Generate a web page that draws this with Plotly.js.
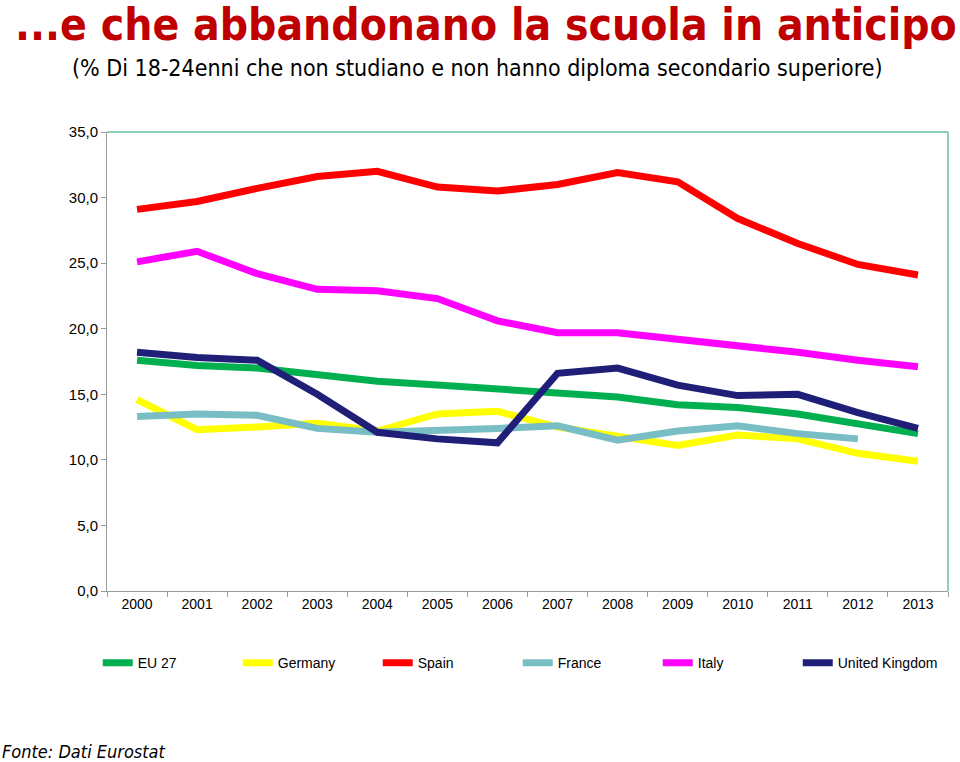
<!DOCTYPE html>
<html>
<head>
<meta charset="utf-8">
<script src="https://cdn.plot.ly/plotly-3.0.1.min.js"></script>
<style>
html,body{margin:0;padding:0;background:#fff;}
#chart{width:960px;height:762px;}
</style>
</head>
<body>
<div id="chart"></div>
<script>
const years = ["2000","2001","2002","2003","2004","2005","2006","2007","2008","2009","2010","2011","2012","2013"];
const eu27    = [17.6,17.2,17.0,16.5,16.0,15.7,15.4,15.0,14.8,14.2,14.0,13.5,12.7,12.0];
const germany = [14.6,12.3,12.5,12.8,12.2,13.5,13.7,12.5,11.8,11.1,11.9,11.6,10.5,9.9];
const spain   = [29.1,29.7,30.7,31.6,32.0,30.8,30.5,31.0,31.9,31.2,28.4,26.5,24.9,24.1];
const france  = [13.3,13.5,13.4,12.4,12.1,12.2,12.4,12.6,11.5,12.2,12.6,12.0,11.6,null];
const italy   = [25.1,25.9,24.2,23.0,22.9,22.3,20.6,19.7,19.7,19.2,18.8,18.2,17.6,17.1];
const uk      = [18.2,17.8,17.6,15.0,12.1,11.6,11.3,16.6,17.0,15.7,14.9,15.0,13.6,12.4];

const seriesNames  = ["EU 27","Germany","Spain","France","Italy","United Kingdom"];
const seriesValues = [eu27, germany, spain, france, italy, uk];
const seriesColors = ["#00b050","#ffff00","#ff0000","#78bec4","#ff00ff","#1f1f78"];

const titleText = "...e che abbandonano la scuola in anticipo";
const subtitleText = "(% Di 18-24enni che non studiano e non hanno diploma secondario superiore)";
const sourceText = "Fonte: Dati Eurostat";

const traces = seriesNames.map((n, i) => ({
  type: "scatter",
  mode: "lines",
  name: n,
  x: years,
  y: seriesValues[i],
  line: {color: seriesColors[i], width: 7},
  hoverinfo: "x+y+name"
}));

const layout = {
  width: 960, height: 762,
  paper_bgcolor: "#ffffff",
  plot_bgcolor: "#ffffff",
  margin: {l: 107, r: 12, t: 132, b: 171, pad: 0, autoexpand: false},
  separators: ",.",
  font: {family: "Liberation Sans, Arial, sans-serif", size: 14, color: "#000"},
  showlegend: true,
  legend: {
    orientation: "h",
    x: -0.011, xanchor: "left",
    y: -0.157, yanchor: "middle",
    entrywidth: 95, entrywidthmode: "pixels",
    itemwidth: 30,
    font: {family: "Liberation Sans, Arial, sans-serif", size: 14, color: "#000"},
    bgcolor: "rgba(0,0,0,0)"
  },
  xaxis: {
    type: "category",
    range: [-0.5, 13.5],
    showgrid: false, zeroline: false,
    showline: true, linecolor: "#9a9a9a", linewidth: 1,
    ticks: "outside", ticklen: 5, tickcolor: "#9a9a9a",
    tickson: "boundaries",
    tickfont: {family: "Liberation Sans, Arial, sans-serif", size: 14},
    fixedrange: true
  },
  yaxis: {
    range: [0, 35],
    dtick: 5, tick0: 0,
    tickformat: ".1f",
    showgrid: false, zeroline: false,
    showline: true, linecolor: "#9a9a9a", linewidth: 1,
    ticks: "outside", ticklen: 5, tickcolor: "#9a9a9a",
    tickfont: {family: "Liberation Sans, Arial, sans-serif", size: 15},
    fixedrange: true
  },
  shapes: [
    {type: "line", xref: "paper", yref: "paper", x0: 0, x1: 1, y0: 1, y1: 1, line: {color: "#66c0a0", width: 1.5}},
    {type: "line", xref: "paper", yref: "paper", x0: 1, x1: 1, y0: 0, y1: 1, line: {color: "#66c0a0", width: 1.5}}
  ],
  annotations: [
    {text: "<b>" + titleText + "</b>", xref: "paper", yref: "paper", x: 0.451, xanchor: "center",
     y: 1.235, yanchor: "middle", showarrow: false,
     font: {family: "DejaVu Sans Condensed, sans-serif", size: 44, color: "#c00000"}},
    {text: subtitleText, xref: "paper", yref: "paper", x: 0.44, xanchor: "center",
     y: 1.139, yanchor: "middle", showarrow: false,
     font: {family: "DejaVu Sans Condensed, sans-serif", size: 23, color: "#000"}},
    {text: "<i>" + sourceText + "</i>", xref: "paper", yref: "paper", x: -107/840, xanchor: "left",
     y: 0, yanchor: "top", yshift: -148, showarrow: false,
     font: {family: "DejaVu Sans Condensed, sans-serif", size: 18, color: "#000"}}
  ]
};

Plotly.newPlot("chart", traces, layout, {displayModeBar: false, staticPlot: true});
</script>
</body>
</html>
